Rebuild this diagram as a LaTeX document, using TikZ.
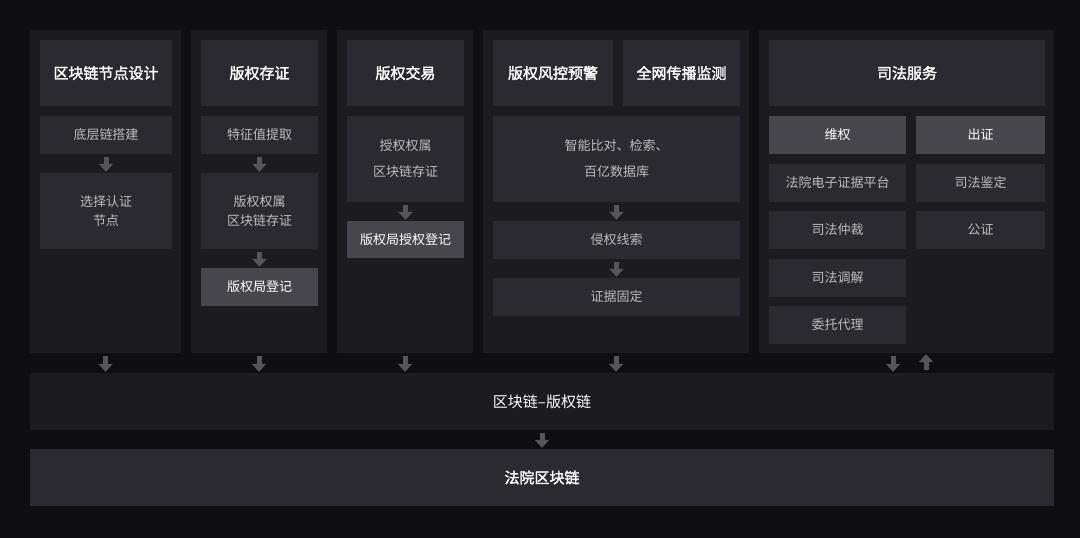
\documentclass[tikz,border=0pt]{standalone}
\usepackage{fontspec}
\setmainfont{Noto Sans CJK SC}[AutoFakeBold=2]
\usetikzlibrary{arrows.meta,calc}
\definecolor{bgc}{HTML}{0F0F11}
\definecolor{panelc}{HTML}{1C1C20}
\definecolor{boxc}{HTML}{2A2A30}
\definecolor{hic}{HTML}{46464C}
\definecolor{arrc}{HTML}{56565A}
\definecolor{txtc}{HTML}{BDBDC0}

\tikzset{
  panel/.style={fill=panelc, inner sep=0pt},
  title/.style={fill=boxc, text=white, font=\fontsize{15}{18}\selectfont\bfseries, inner sep=0pt, align=center},
  item/.style={fill=boxc, text=txtc, font=\fontsize{13}{26}\selectfont, inner sep=0pt, align=center},
  tight/.style={item, font=\fontsize{13}{19}\selectfont},
  hitem/.style={item, fill=hic, text=white},
  bar/.style={fill=panelc, text=white, font=\fontsize{15}{18}\selectfont, inner sep=0pt},
  flow/.style={draw=arrc, line width=5pt, -{Triangle[width=14pt,length=8pt]}, shorten <=3pt, shorten >=1pt},
}
% box from its pixel corners: \bx{style}{name}{x1}{y1}{x2}{y2}{text}
\newcommand{\bx}[7]{%
  \node[#1, minimum width={(#5-#3)*1pt}, minimum height={(#6-#4)*1pt}] (#2) at ({(#3+#5)/2},{(#4+#6)/2}) {#7};}

\begin{document}
\begin{tikzpicture}[x=1pt,y=-1pt]
\fill[bgc] (0,0) rectangle (1080,538);
\useasboundingbox (0,0) rectangle (1080,538);

% columns
\bx{panel}{c1}{30}{30}{181}{353}{}
\bx{panel}{c2}{191}{30}{327}{353}{}
\bx{panel}{c3}{337}{30}{473}{353}{}
\bx{panel}{c4}{483}{30}{749}{353}{}
\bx{panel}{c5}{759}{30}{1054}{353}{}

% node design
\bx{title}{t1}{40}{40}{172}{106}{区块链节点设计}
\bx{item}{a1}{40}{116}{172}{154}{底层链搭建}
\bx{tight}{a2}{40}{173}{172}{249}{选择认证\\节点}

% deposit
\bx{title}{t2}{201}{40}{318}{106}{版权存证}
\bx{item}{b1}{201}{116}{318}{154}{特征值提取}
\bx{tight}{b2}{201}{173}{318}{249}{版权权属\\区块链存证}
\bx{hitem}{b3}{201}{268}{318}{306}{版权局登记}

% trade
\bx{title}{t3}{347}{40}{464}{106}{版权交易}
\bx{item}{d1}{347}{116}{464}{202}{授权权属\\区块链存证}
\bx{hitem}{d2}{347}{221}{464}{258}{版权局授权登记}

% risk / monitoring
\bx{title}{t4a}{493}{40}{613}{106}{版权风控预警}
\bx{title}{t4b}{623}{40}{740}{106}{全网传播监测}
\bx{item}{e1}{493}{116}{740}{202}{智能比对、检索、\\百亿数据库}
\bx{item}{e2}{493}{221}{740}{259}{侵权线索}
\bx{item}{e3}{493}{278}{740}{316}{证据固定}

% judicial
\bx{title}{t5}{769}{40}{1045}{106}{司法服务}
\bx{hitem}{f1}{769}{116}{906}{154}{维权}
\bx{item}{f2}{769}{164}{906}{202}{法院电子证据平台}
\bx{item}{f3}{769}{211}{906}{249}{司法仲裁}
\bx{item}{f4}{769}{259}{906}{297}{司法调解}
\bx{item}{f5}{769}{306}{906}{344}{委托代理}
\bx{hitem}{g1}{916}{116}{1045}{154}{出证}
\bx{item}{g2}{916}{164}{1045}{202}{司法鉴定}
\bx{item}{g3}{916}{211}{1045}{249}{公证}

% chains
\bx{bar}{chain}{30}{373}{1054}{430}{区块链–版权链}
\bx{title}{court}{30}{449}{1054}{506}{法院区块链}

% inner flows
\draw[flow] (a1) -- (a2);
\draw[flow] (b1) -- (b2);
\draw[flow] (b2) -- (b3);
\draw[flow] (d1) -- (d2);
\draw[flow] (e1) -- (e2);
\draw[flow] (e2) -- (e3);
\draw[flow] (chain) -- (court);

% columns to chain
\foreach \c in {c1,c2,c3,c4}
  \draw[flow] (\c) -- (chain.north -| \c);
\draw[flow] (c5.south -| 893,0) -- (chain.north -| 893,0);
\draw[flow] (chain.north -| 926,0) -- (c5.south -| 926,0);
\end{tikzpicture}
\end{document}
